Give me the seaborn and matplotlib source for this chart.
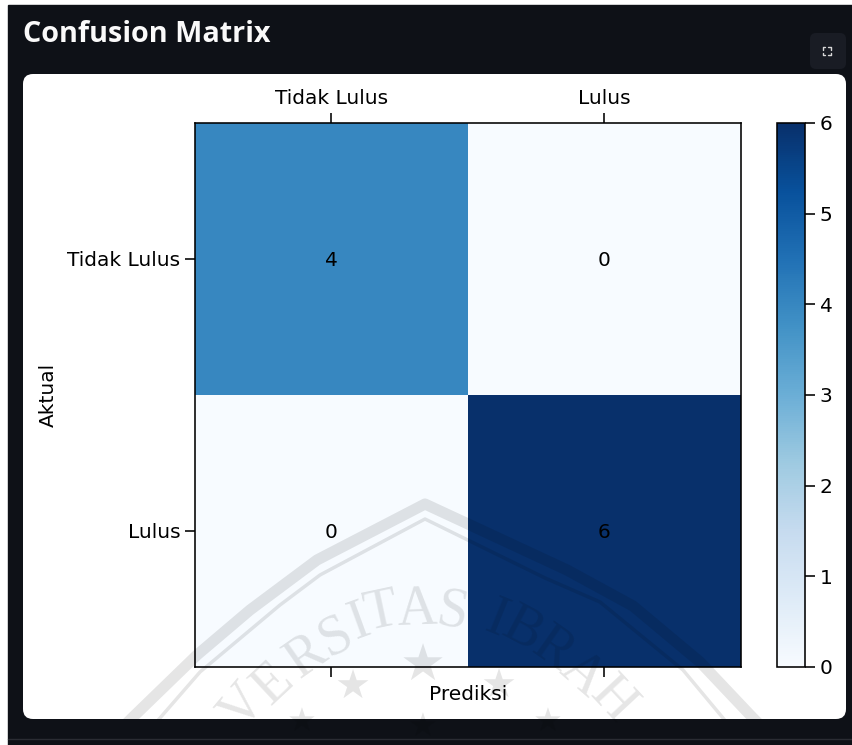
#!/usr/bin/env python3
import matplotlib
matplotlib.use('Agg')
import matplotlib.pyplot as plt
import seaborn as sns
import pandas as pd
from matplotlib.patches import FancyBboxPatch, Rectangle
from matplotlib.lines import Line2D
from matplotlib.transforms import Affine2D

labels = ['Tidak Lulus', 'Lulus']
row_tidak_lulus = [4, 0]
row_lulus = [0, 6]
cbar_ticks = [0, 1, 2, 3, 4, 5, 6]

W, H = 853, 745
FS = 14.5
DARK = '#0e1117'

cm = pd.DataFrame([row_tidak_lulus, row_lulus], index=labels, columns=labels)

sns.set_style('white')
plt.rcParams['font.family'] = ['DejaVu Sans']
plt.rcParams['text.color'] = 'black'
plt.rcParams['axes.labelcolor'] = 'black'
plt.rcParams['xtick.labelcolor'] = 'black'
plt.rcParams['ytick.labelcolor'] = 'black'

fig = plt.figure(figsize=(W / 100, H / 100), dpi=100, facecolor='white')
# pixel coordinates with the origin top left, like the screenshot
px = Affine2D().scale(1 / W, -1 / H).translate(0, 1) + fig.transFigure

# page background and white card
fig.add_artist(Rectangle((8, 5), W - 8, H - 5, transform=px, color=DARK, zorder=-5))
fig.add_artist(Line2D([8, W], [739, 739], transform=px, color='#2a2c33', lw=1, zorder=-4))
card = FancyBboxPatch((23, 74), 823, 645, boxstyle='round,pad=0,rounding_size=10',
                      transform=px, facecolor='white', edgecolor='none', zorder=-3)
fig.add_artist(card)

# page title and fullscreen button
fig.text(23, 35, 'Confusion Matrix', transform=px, color='#fafafa', fontsize=20.7,
         family='Open Sans', weight='bold', va='center', ha='left')
fig.add_artist(FancyBboxPatch((810, 33), 36, 36, boxstyle='round,pad=0,rounding_size=6',
                              transform=px, facecolor='#191c24', edgecolor='none', zorder=-2))
for cx, cy, dx, dy in [(823, 47, 1, 1), (831, 47, -1, 1), (823, 55, 1, -1), (831, 55, -1, -1)]:
    fig.add_artist(Line2D([cx + 2.5 * dx, cx, cx], [cy, cy, cy + 2.5 * dy], transform=px,
                          color='#d8d8d8', lw=1, zorder=-1))

# heatmap
ax = fig.add_axes([195 / W, 1 - 667 / H, 546 / W, 544 / H])
cax = fig.add_axes([777 / W, 1 - 667 / H, 28 / W, 544 / H])
sns.heatmap(cm, annot=True, fmt='d', cmap='Blues', vmin=0, vmax=6, ax=ax, cbar_ax=cax,
            annot_kws={'color': 'black', 'size': FS, 'va': 'center_baseline'})

ax.tick_params(top=True, bottom=True, left=True, labeltop=True, labelbottom=False,
               length=7, width=1.15, labelsize=FS, color='black', pad=3.5)
ax.set_yticklabels(labels, rotation=0, va='center_baseline')
ax.set_xticklabels(labels, rotation=0)
ax.set_xlabel('Prediksi', fontsize=FS, labelpad=6)
ax.set_ylabel('Aktual', fontsize=FS, labelpad=7)
ax.xaxis.set_label_position('bottom')
for spine in ax.spines.values():
    spine.set_visible(True)
    spine.set_linewidth(1.15)
    spine.set_color('black')

cbar = ax.collections[0].colorbar
cbar.set_ticks(cbar_ticks)
cbar.ax.tick_params(length=7, width=1.15, labelsize=FS, color='black', right=True, pad=3.5)
cbar.outline.set_visible(True)
cbar.outline.set_linewidth(1.15)
cbar.outline.set_edgecolor('black')

# faint logo watermark over the lower part of the card
wm = (0, 0, 0, 0.1)
bands = [
    ([110, 132, 197, 250, 317, 425, 567, 633, 700, 753, 775],
     [740, 718, 655, 610, 560, 504, 570, 606, 662, 718, 740], 8),
    ([135, 160, 200, 280, 320, 425, 545, 600, 683, 723, 745],
     [745, 718, 672, 605, 575, 519, 578, 602, 670, 718, 745], 2.5),
]
for xs, ys, lw in bands:
    line = Line2D(xs, ys, transform=px, color=wm, lw=lw, zorder=10, solid_joinstyle='round')
    fig.add_artist(line)
    line.set_clip_path(card)

letters = [('V', 243, 707, 50), ('E', 273, 684, 43), ('R', 307, 657, 35), ('S', 335, 637, 27),
           ('I', 360, 623, 20), ('T', 382, 613, 12), ('A', 417, 610, 2), ('S', 452, 612, -10),
           ('I', 497, 620, -22), ('B', 522, 630, -28), ('R', 553, 650, -35), ('A', 582, 675, -41),
           ('H', 612, 700, -47)]
for ch, x, y, rot in letters:
    t = fig.text(x, y, ch, transform=px, color=wm, fontsize=40, family='Liberation Serif',
                 ha='center', va='center', rotation=rot, zorder=10)
    t.set_clip_path(card)

for x, y, size in [(352, 688, 29), (423, 667, 37), (498, 687, 29),
                   (302, 722, 24), (423, 727, 24), (548, 722, 24)]:
    t = fig.text(x, y, '\u2605', transform=px, color=wm, fontsize=size, family='DejaVu Sans',
                 ha='center', va='center', zorder=10)
    t.set_clip_path(card)

fig.savefig('out.png', dpi=100, facecolor='white')
